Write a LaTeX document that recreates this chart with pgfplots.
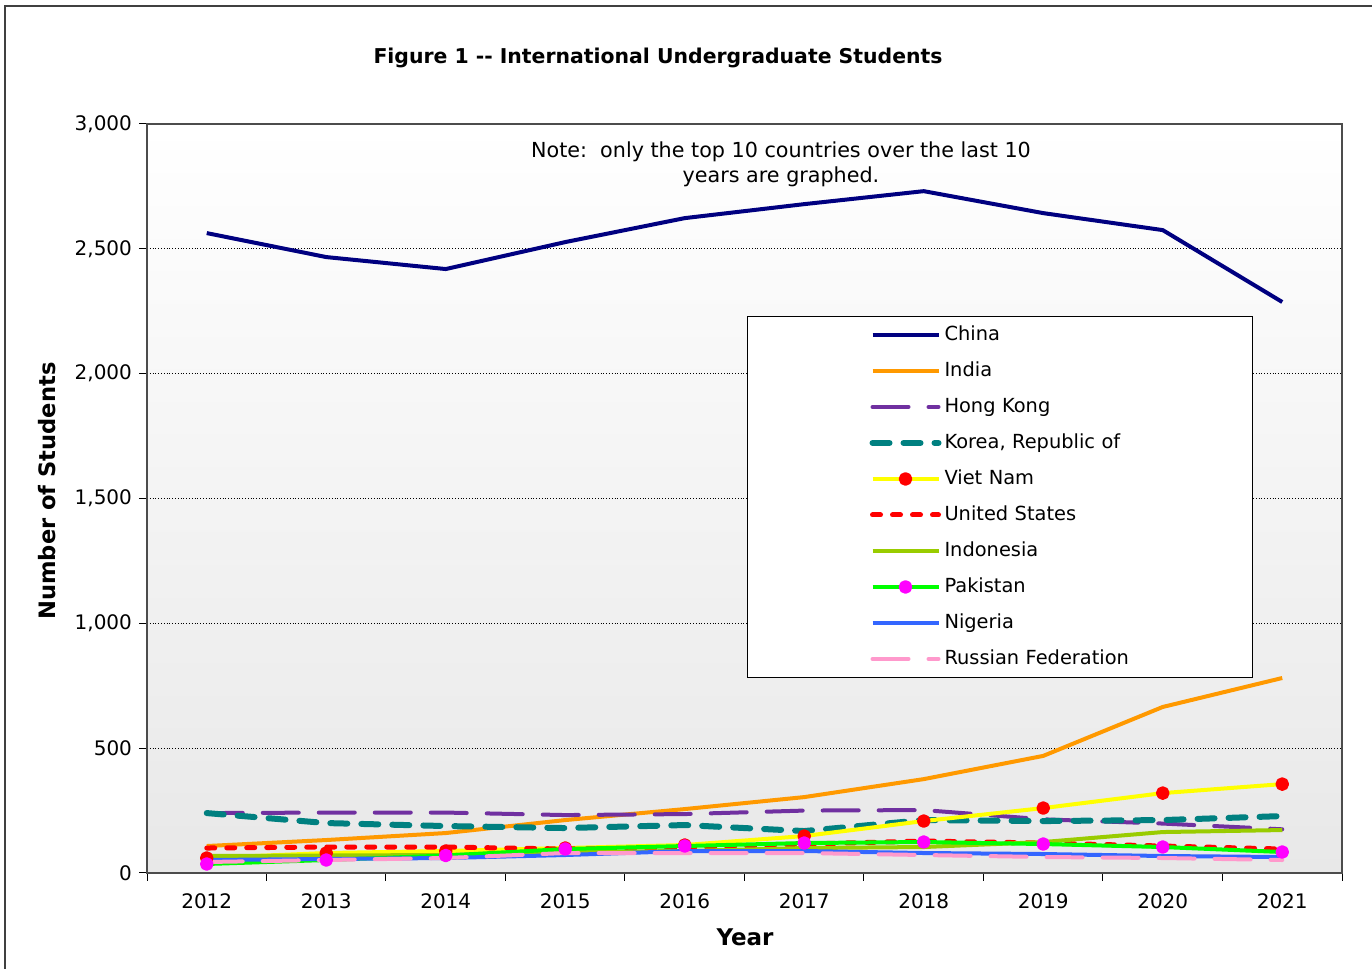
\documentclass[border=0pt]{standalone}
\usepackage{fontspec}
\setmainfont{DejaVu Sans}
\usepackage{pgfplots}
\usepackage{pgfplotstable}
\pgfplotsset{compat=1.18}
\definecolor{cnavy}{HTML}{000080}
\definecolor{corange}{HTML}{FF9900}
\definecolor{cpurple}{HTML}{7030A0}
\definecolor{cteal}{HTML}{008080}
\definecolor{cyellow}{HTML}{FFFF00}
\definecolor{cred}{HTML}{FF0000}
\definecolor{cindo}{HTML}{99CC00}
\definecolor{cpak}{HTML}{00FF00}
\definecolor{cnig}{HTML}{3366FF}
\definecolor{crus}{HTML}{FF99CC}
\definecolor{cmag}{HTML}{FF00FF}
\pgfplotstableread{
year China India HK Korea VN US Indo Pak Nig Rus
2012 2563 108 240 240 60 100 68 36 52 44
2013 2467 132 242 200 80 104 70 52 56 52
2014 2419 160 242 188 88 104 72 70 60 60
2015 2527 212 232 180 100 96 84 96 72 80
2016 2623 256 236 192 112 100 88 108 88 80
2017 2679 304 250 168 148 116 100 120 88 80
2018 2731 376 252 212 208 128 104 124 80 72
2019 2643 469 215 208 260 120 124 116 76 64
2020 2575 665 198 212 320 108 164 104 68 60
2021 2287 781 175 228 356 96 172 84 64 52
}\datatable
\begin{document}
\begin{tikzpicture}[font=\fontsize{10}{12}\selectfont]
\useasboundingbox (0,0) rectangle (686pt,484.5pt);
\draw[gray!50!black, line width=0.6pt] (2.5pt,0) -- (2.5pt,481.5pt) -- (686pt,481.5pt);
\begin{axis}[
  at={(73.5pt,48pt)}, anchor=south west, scale only axis,
  width=597.5pt, height=374.5pt,
  xmin=2011.5, xmax=2021.5, ymin=0, ymax=3000,
  xtick={2011.5,2012.5,...,2021.5},
  x tick label as interval,
  xticklabels={2012,2013,2014,2015,2016,2017,2018,2019,2020,2021},
  ytick={0,500,...,3000},
  xtick pos=bottom, ytick pos=left,
  tick align=outside,
  major tick length=4pt,
  /pgf/number format/assume math mode=true,
  yticklabel style={/pgf/number format/1000 sep={,}, font=\fontsize{10}{12}\selectfont},
  xticklabel style={font=\fontsize{10}{12}\selectfont, yshift=-3pt},
  ymajorgrids,
  major grid style={densely dotted, black, line width=0.4pt},
  axis line style={gray!60!black, line width=0.6pt},
  tick style={black, line width=0.5pt},
  axis background/.style={top color=white, bottom color=black!9},
  legend style={at={(axis description cs:0.5021,0.7437)}, anchor=north west,
    draw=black, line width=0.5pt, fill=white, inner xsep=0pt, inner ysep=4pt,
    row sep=7.5pt, column sep=1.5pt,
    nodes={inner sep=0pt, text height=8pt, text depth=2.5pt, text width=154pt, align=left, font=\fontsize{9.7}{12}\selectfont}},
  legend cell align=left,
  legend image code/.code={%
    \path[draw=none, fill=none] (-62.5pt,0pt) -- (0pt,0pt);
    \draw[mark repeat=2,mark phase=2,#1] plot coordinates {(0pt,0pt) (16.5pt,0pt) (33pt,0pt)};},
  every axis plot/.append style={line join=round},
]
\addplot[cnavy, line width=2pt] table[x=year,y=China]{\datatable};
\addlegendentry{China}
\addplot[corange, line width=2pt] table[x=year,y=India]{\datatable};
\addlegendentry{India}
\addplot[cpurple, line width=2pt, line cap=round, dash pattern=on 18pt off 10pt] table[x=year,y=HK]{\datatable};
\addlegendentry{Hong Kong}
\addplot[cteal, line width=3pt, line cap=round, dash pattern=on 8.5pt off 7pt] table[x=year,y=Korea]{\datatable};
\addlegendentry{Korea, Republic of}
\addplot[cyellow, line width=2pt, mark=*, mark size=2.4pt, mark options={solid, fill=cred, draw=cred}] table[x=year,y=VN]{\datatable};
\addlegendentry{Viet Nam}
\addplot[cred, line width=2.5pt, line cap=round, dash pattern=on 4pt off 6pt] table[x=year,y=US]{\datatable};
\addlegendentry{United States}
\addplot[cindo, line width=2pt] table[x=year,y=Indo]{\datatable};
\addlegendentry{Indonesia}
\addplot[cpak, line width=2pt, mark=*, mark size=2.4pt, mark options={solid, fill=cmag, draw=cmag}] table[x=year,y=Pak]{\datatable};
\addlegendentry{Pakistan}
\addplot[cnig, line width=2pt] table[x=year,y=Nig]{\datatable};
\addlegendentry{Nigeria}
\addplot[crus, line width=2pt, line cap=round, dash pattern=on 18pt off 10pt] table[x=year,y=Rus]{\datatable};
\addlegendentry{Russian Federation}
\end{axis}
\node[font=\fontsize{10.2}{12}\selectfont\bfseries] at (329pt,455.5pt) {Figure 1 -{}- International Undergraduate Students};
\node[align=center, font=\fontsize{10.35}{12.5}\selectfont] at (390.5pt,402.5pt) {Note:\ \ only the top 10 countries over the last 10\\years are graphed.};
\node[font=\fontsize{11.5}{13}\selectfont\bfseries] at (372.5pt,16pt) {Year};
\node[font=\fontsize{11.3}{13}\selectfont\bfseries, rotate=90] at (23.5pt,239pt) {Number of Students};
\end{tikzpicture}
\end{document}
